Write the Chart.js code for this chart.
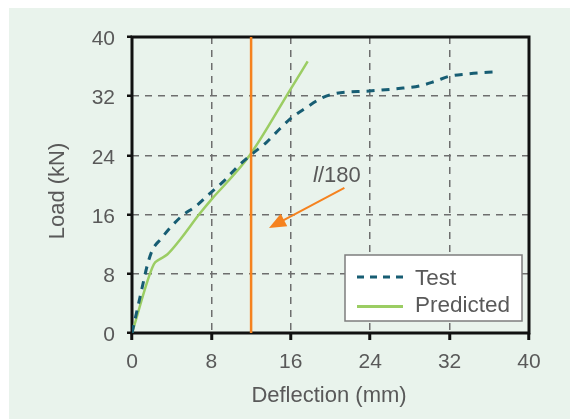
<!DOCTYPE html>
<html>
<head>
<meta charset="utf-8">
<script src="https://cdn.jsdelivr.net/npm/chart.js@4/dist/chart.umd.min.js"></script>
<style>
  html, body { margin: 0; padding: 0; background: #ffffff; }
  canvas { display: block; }
</style>
</head>
<body>
<canvas id="chart" width="570" height="419"></canvas>
<script>
// Load–deflection curves (deflection in mm, load in kN)
const testDeflection = [0, 1.0, 1.55, 2.05, 2.9, 3.9, 5.1, 6.4, 7.8, 9.3, 10.8, 12.2, 13.5, 14.9, 16.0, 17.5, 19.2, 20.6, 23.9, 27.3, 29.0, 30.5, 32.0, 33.7, 35.4, 36.9];
const testLoad       = [0, 6.0, 9.2, 11.2, 12.7, 14.3, 15.9, 17.1, 18.8, 20.6, 22.7, 24.3, 25.7, 27.6, 29.0, 30.4, 31.8, 32.4, 32.7, 33.1, 33.4, 34.0, 34.7, 35.0, 35.2, 35.3];

const predictedDeflection = [0, 2.2, 2.7, 3.55, 4.9, 6.75, 8.1, 9.6, 11.9, 16.0, 17.7];
const predictedLoad       = [0, 9.3, 9.9, 10.6, 12.7, 16.0, 18.2, 20.4, 24.1, 33.0, 36.7];

// Serviceability limit l/180
const limitDeflection = 12;
const limitLoadRange = [0, 40];

const axisTicks = [0, 8, 16, 24, 32, 40];
const seriesNames = ['Test', 'Predicted'];
const axisTitles = { x: 'Deflection (mm)', y: 'Load (kN)' };

const COLORS = {
  test: '#175d73',
  predicted: '#9bcd63',
  limit: '#f5821f',
  text: '#595959',
  grid: '#6e6e6e',
  frame: '#111111',
  panel: '#e9f3ec'
};
const FONT = '"Liberation Sans", Arial, Helvetica, sans-serif';

const toPoints = (xs, ys) => xs.map((x, i) => ({ x, y: ys[i] }));

const panelPlugin = {
  id: 'panel',
  beforeDraw(chart) {
    const { ctx, width, height } = chart;
    ctx.save();
    ctx.fillStyle = '#ffffff';
    ctx.fillRect(0, 0, width, height);
    ctx.fillStyle = COLORS.panel;
    ctx.fillRect(9, 8, width - 9, height - 8);
    ctx.restore();
  },
  beforeDatasetsDraw(chart) {
    const { ctx, chartArea: a } = chart;
    ctx.save();
    ctx.strokeStyle = COLORS.frame;
    ctx.lineWidth = 3;
    ctx.strokeRect(a.left, a.top, a.right - a.left, a.bottom - a.top);
    ctx.restore();
  },
  afterDatasetsDraw(chart) {
    const { ctx, scales } = chart;
    const xs = scales.x, ys = scales.y;
    ctx.save();

    // l/180 label and arrow
    const p0 = { x: xs.getPixelForValue(21.4), y: ys.getPixelForValue(19.6) };
    const p1 = { x: xs.getPixelForValue(13.8), y: ys.getPixelForValue(14.2) };
    const ang = Math.atan2(p1.y - p0.y, p1.x - p0.x);
    const headLen = 17, headHalf = 7;
    const bx = p1.x - headLen * Math.cos(ang), by = p1.y - headLen * Math.sin(ang);
    ctx.strokeStyle = COLORS.limit;
    ctx.lineWidth = 2;
    ctx.beginPath();
    ctx.moveTo(p0.x, p0.y);
    ctx.lineTo(bx + 3 * Math.cos(ang), by + 3 * Math.sin(ang));
    ctx.stroke();
    ctx.fillStyle = COLORS.limit;
    ctx.beginPath();
    ctx.moveTo(p1.x, p1.y);
    ctx.lineTo(bx + headHalf * Math.sin(ang), by - headHalf * Math.cos(ang));
    ctx.lineTo(bx - headHalf * Math.sin(ang), by + headHalf * Math.cos(ang));
    ctx.closePath();
    ctx.fill();

    ctx.fillStyle = COLORS.text;
    ctx.textBaseline = 'alphabetic';
    ctx.textAlign = 'left';
    const lx = 313, ly = 182;
    ctx.font = 'italic 22px ' + FONT;
    ctx.fillText('l', lx, ly);
    const w = ctx.measureText('l').width;
    ctx.font = '22px ' + FONT;
    ctx.fillText('/180', lx + w, ly);

    // legend
    const box = { x: 345, y: 255, w: 177, h: 66 };
    ctx.fillStyle = '#ffffff';
    ctx.fillRect(box.x, box.y, box.w, box.h);
    ctx.strokeStyle = '#7d7d7d';
    ctx.lineWidth = 1.5;
    ctx.strokeRect(box.x, box.y, box.w, box.h);

    const rows = [
      { ds: chart.data.datasets[1], y: 277, ty: 285 },
      { ds: chart.data.datasets[2], y: 306.5, ty: 311.5 }
    ];
    rows.forEach(r => {
      ctx.strokeStyle = r.ds.borderColor;
      ctx.lineWidth = 3;
      ctx.setLineDash(r.ds.borderDash ? [7, 6] : []);
      ctx.beginPath();
      ctx.moveTo(357, r.y);
      ctx.lineTo(403, r.y);
      ctx.stroke();
      ctx.setLineDash([]);
      ctx.fillStyle = COLORS.text;
      ctx.font = '22.5px ' + FONT;
      ctx.fillText(r.ds.label, 415, r.ty);
    });

    // axis titles
    ctx.fillStyle = COLORS.text;
    ctx.font = '22px ' + FONT;
    ctx.textAlign = 'center';
    ctx.fillText(axisTitles.x, 329, 402);
    ctx.translate(64, 191);
    ctx.rotate(-Math.PI / 2);
    ctx.fillText(axisTitles.y, 0, 0);
    ctx.restore();
  }
};

const axisCommon = {
  type: 'linear',
  min: axisTicks[0],
  max: axisTicks[axisTicks.length - 1],
  afterBuildTicks(scale) { scale.ticks = axisTicks.map(v => ({ value: v })); },
  border: { display: false, dash: [7, 6] },
  title: { display: false }
};

new Chart(document.getElementById('chart'), {
  type: 'line',
  data: {
    datasets: [
      {
        label: 'l/180',
        data: [{ x: limitDeflection, y: limitLoadRange[0] }, { x: limitDeflection, y: limitLoadRange[1] }],
        borderColor: COLORS.limit,
        borderWidth: 2.5,
        pointRadius: 0,
        tension: 0
      },
      {
        label: seriesNames[0],
        data: toPoints(testDeflection, testLoad),
        borderColor: COLORS.test,
        borderWidth: 3,
        borderDash: [8, 7],
        pointRadius: 0,
        cubicInterpolationMode: 'monotone'
      },
      {
        label: seriesNames[1],
        data: toPoints(predictedDeflection, predictedLoad),
        borderColor: COLORS.predicted,
        borderWidth: 2.5,
        pointRadius: 0,
        cubicInterpolationMode: 'monotone'
      }
    ]
  },
  options: {
    responsive: false,
    animation: false,
    events: [],
    layout: { padding: { left: 0, top: 37, right: 41, bottom: 0 } },
    plugins: { legend: { display: false }, tooltip: { enabled: false } },
    scales: {
      x: Object.assign({}, axisCommon, {
        position: 'bottom',
        afterFit(scale) { scale.height = 86; },
        grid: {
          color: COLORS.grid, lineWidth: 1.5,
          tickColor: COLORS.frame, tickWidth: 3, tickLength: 7
        },
        ticks: { color: COLORS.text, font: { family: FONT, size: 21 }, padding: 10, maxRotation: 0 }
      }),
      y: Object.assign({}, axisCommon, {
        position: 'left',
        afterFit(scale) { scale.width = 132; },
        grid: {
          color: COLORS.grid, lineWidth: 1.5,
          tickColor: COLORS.frame, tickWidth: 2.5, tickLength: 5
        },
        ticks: { color: COLORS.text, font: { family: FONT, size: 21 }, padding: 12, labelOffset: 2.5 }
      })
    }
  },
  plugins: [panelPlugin]
});
</script>
</body>
</html>
